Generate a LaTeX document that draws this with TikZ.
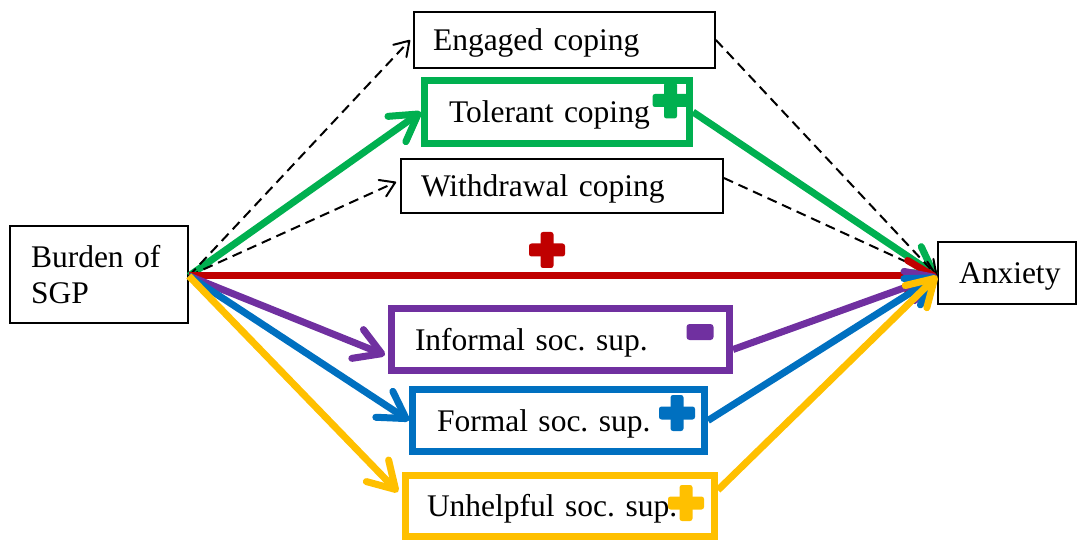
\documentclass[tikz,border=0pt]{standalone}
\usepackage{fontspec}
\setmainfont{Liberation Serif}
\usetikzlibrary{arrows.meta}

\definecolor{cgreen}{HTML}{00B050}
\definecolor{cred}{HTML}{C00000}
\definecolor{cpurple}{HTML}{7030A0}
\definecolor{cblue}{HTML}{0070C0}
\definecolor{cyellow}{HTML}{FFC000}

\tikzset{
  box/.style={draw=black, line width=1.8pt, fill=white, inner ysep=0pt,
    align=left, font=\fontsize{31.5}{36}\selectfont\frenchspacing},
  oneline/.style={text height=28pt, text depth=7pt},
  cpath/.style={line width=7pt, draw=#1,
    -{Straight Barb[length=26pt,width=31pt,round]}},
  dsh/.style={line width=2pt, dash pattern=on 10pt off 6pt,
    -{Straight Barb[length=14pt,width=18pt,round]}},
  plusmark/.pic={
    \fill[rounded corners=2.5pt] (-18,-6.5) rectangle (18,6.5);
    \fill[rounded corners=2.5pt] (-6.5,-18) rectangle (6.5,18);
  },
  minusmark/.pic={
    \fill[rounded corners=3pt] (-13.5,-8) rectangle (13.5,8);
  }
}

\begin{document}
\begin{tikzpicture}[x=1pt,y=-1pt]
\useasboundingbox (0,0) rectangle (1077,540);

% boxes
\node[box, oneline, minimum height=56pt, inner xsep=19pt, text width=263pt]
  (eng) at (564.5,40) {Engaged coping};
\node[box, oneline, draw=cgreen, line width=7pt, minimum height=63pt,
  inner xsep=24.5pt, text width=216pt] (tol) at (557,112) {Tolerant coping};
\node[box, oneline, minimum height=54pt, inner xsep=20pt, text width=282pt]
  (wd) at (562,186) {Withdrawal coping};
\node[box, minimum height=97pt, inner xsep=21pt, text width=136pt]
  (burden) at (99,274.5) {Burden of\\SGP};
\node[box, oneline, minimum height=62pt, inner xsep=21pt, text width=96pt]
  (anx) at (1007,273) {Anxiety};
\node[box, oneline, draw=cpurple, line width=7pt, minimum height=62pt,
  inner xsep=23.5pt, text width=291pt] (inf) at (560.5,339.5) {Informal soc. sup.};
\node[box, oneline, draw=cblue, line width=7pt, minimum height=62pt,
  inner xsep=24.5pt, text width=243pt] (fmal) at (558.5,420.5) {Formal soc. sup.};
\node[box, oneline, draw=cyellow, line width=7pt, minimum height=61pt,
  inner xsep=21.5pt, text width=266pt] (unh) at (560,506) {Unhelpful soc. sup.};

% common end points of the paths
\coordinate (src) at ([yshift=-1.5pt]burden.east);
\coordinate (dst) at (anx.west |- src);

% coping paths
\draw[cpath=cgreen] (src) -- (tol.west);
\draw[cpath=cgreen] (tol.east) -- (dst);
\draw[dsh] (src) -- ([xshift=-3pt]eng.west);
\draw[dsh] (src) -- ([xshift=-4pt,yshift=4pt]wd.west);
\draw[dsh] (eng.east) -- (dst);
\draw[dsh] ([yshift=8pt]wd.east) -- (dst);

% direct path
\draw[cpath=cred] (src) -- (dst);

% social support paths
\draw[cpath=cpurple] (src) -- ([xshift=-3pt,yshift=-15.5pt]inf.west);
\draw[cpath=cpurple] ([yshift=-10pt]inf.east) -- (dst);
\draw[cpath=cblue] (src) -- (fmal.west);
\draw[cpath=cblue] (fmal.east) -- (dst);
\draw[cpath=cyellow] (src) -- ([xshift=-4pt,yshift=14pt]unh.west);
\draw[cpath=cyellow] ([yshift=16pt]unh.east) -- (dst);

% signs of the effects
\pic[cgreen] at (670.5,100.5) {plusmark};
\pic[cred] at (547,250) {plusmark};
\pic[cpurple] at (700,332) {minusmark};
\pic[cblue] at (677,413) {plusmark};
\pic[cyellow] at (686,503) {plusmark};
\end{tikzpicture}
\end{document}
